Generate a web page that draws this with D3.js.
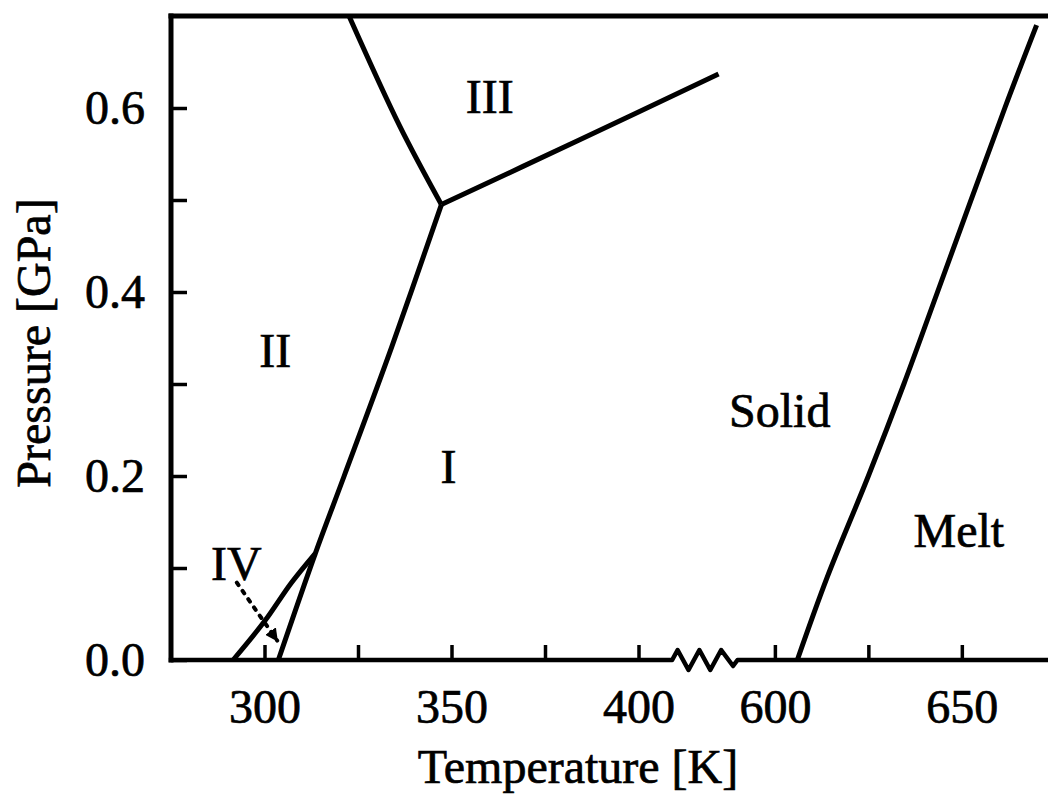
<!DOCTYPE html>
<html>
<head>
<meta charset="utf-8">
<script src="https://cdn.jsdelivr.net/npm/d3@7"></script>
<style>
  body { margin: 0; background: #fff; }
  svg { display: block; }
  text { font-family: "Liberation Serif", "Times New Roman", serif; fill: #000; stroke: #000; stroke-width: 0.7px; }
</style>
</head>
<body>
<script>
// phase boundaries, [T (K), p (GPa)]
var lineI_II = [[303.7, 0], [313.6, 0.116], [321.3, 0.2], [334, 0.34], [347.3, 0.495]];
var lineII_IV = [[291.6, 0], [300, 0.042], [307.2, 0.084], [313.6, 0.116]];
var lineII_III = [[347.3, 0.495], [336.2, 0.58], [322.6, 0.7]];
var lineI_III = [[347.3, 0.495], [384, 0.565], [421.4, 0.637]];
var meltLine = [[606, 0], [614, 0.09], [625, 0.2], [634.5, 0.3], [643.5, 0.4], [661.5, 0.6], [670, 0.69]];
var arrowIV = [[292.6, 0.084], [303.4, 0.021]];

var regionNames = ["III", "II", "I", "IV", "Solid", "Melt"];
var regionT = [360.2, 302.9, 349.2, 292.5, 601.3, 649.2];
var regionP = [0.595, 0.318, 0.192, 0.087, 0.253, 0.123];

var xTicks = [300, 325, 350, 375, 400, 600, 625, 650, 675];
var xLabels = [300, 350, 400, 600, 650];
var yTicks = [0, 0.1, 0.2, 0.3, 0.4, 0.5, 0.6];
var yLabels = [0, 0.2, 0.4, 0.6];

// broken temperature axis: left piece 275-425 K, right piece 590-680 K
var breakFrom = 409, breakTo = 590;

var W = 1048, H = 796;
var svg = d3.select("body").append("svg")
    .attr("width", W)
    .attr("height", H);

var x = d3.scaleLinear()
    .domain([275, 425, 590, 680])
    .range([171, 732, 737.5, 1074]);
var y = d3.scaleLinear()
    .domain([0, 0.7])
    .range([660, 16]);

// axes (ticks drawn inward)
var xAxis = svg.append("g")
    .attr("transform", "translate(0," + y(0) + ")")
    .call(d3.axisBottom(x)
        .tickValues(xTicks)
        .tickSizeInner(-15)
        .tickSizeOuter(0)
        .tickPadding(29)
        .tickFormat(function(d) { return xLabels.indexOf(d) >= 0 ? d : ""; }));
xAxis.select(".domain").remove();
xAxis.selectAll(".tick line").attr("stroke", "#000").attr("stroke-width", 3.5);
xAxis.selectAll(".tick text").attr("font-size", 48).attr("font-family", "Liberation Serif, serif");

var yAxis = svg.append("g")
    .attr("transform", "translate(" + x(275) + ",0)")
    .call(d3.axisLeft(y)
        .tickValues(yTicks)
        .tickSizeInner(-16)
        .tickSizeOuter(0)
        .tickPadding(26)
        .tickFormat(function(d) { return yLabels.indexOf(d) >= 0 ? d3.format(".1f")(d) : ""; }));
yAxis.select(".domain").remove();
yAxis.selectAll(".tick line").attr("stroke", "#000").attr("stroke-width", 3.5);
yAxis.selectAll(".tick text").attr("font-size", 48).attr("font-family", "Liberation Serif, serif");

// frame: left, top, and bottom with break symbol
var frame = svg.append("g")
    .attr("fill", "none")
    .attr("stroke", "#000")
    .attr("stroke-width", 5)
    .attr("stroke-linecap", "square");

frame.append("line")
    .attr("x1", x(275)).attr("x2", x(275))
    .attr("y1", y(0.7)).attr("y2", y(0));
frame.append("line")
    .attr("x1", x(275)).attr("x2", W + 10)
    .attr("y1", y(0.7)).attr("y2", y(0.7));

var x0 = x(breakFrom), x1 = x(breakTo), step = (x1 - x0) / 6;
var zig = [[x(275), 0], [x0, 0]];
[-10, 10, -10, 10, -10, 6].forEach(function(a, i) { zig.push([x0 + step * (i + 0.5) + (i == 5 ? 1 : 0), a]); });
zig.push([x1, 0], [W + 10, 0]);
frame.append("path")
    .attr("transform", "translate(0," + y(0) + ")")
    .attr("stroke-width", 4.5)
    .attr("stroke-linejoin", "round")
    .attr("d", d3.line()(zig));

// phase boundaries
var line = d3.line()
    .x(function(d) { return x(d[0]); })
    .y(function(d) { return y(d[1]); })
    .curve(d3.curveCatmullRom);

svg.append("g")
    .selectAll("path")
    .data([lineI_II, lineII_IV, lineII_III, lineI_III, meltLine])
    .enter()
    .append("path")
    .attr("d", line)
    .attr("fill", "none")
    .attr("stroke", "#000")
    .attr("stroke-width", 5)
    .attr("stroke-linejoin", "round")
    .attr("stroke-linecap", "butt");

// dotted arrow pointing at phase IV
svg.append("defs").append("marker")
    .attr("id", "head")
    .attr("viewBox", "0 0 10 10")
    .attr("refX", 9).attr("refY", 5)
    .attr("markerWidth", 13).attr("markerHeight", 13)
    .attr("markerUnits", "userSpaceOnUse")
    .attr("orient", "auto")
    .append("path")
    .attr("d", "M0,0L10,5L0,10z")
    .attr("fill", "#000");

svg.append("path")
    .attr("d", d3.line().x(function(d) { return x(d[0]); }).y(function(d) { return y(d[1]); })(arrowIV))
    .attr("fill", "none")
    .attr("stroke", "#000")
    .attr("stroke-width", 4)
    .attr("stroke-dasharray", "3,7")
    .attr("stroke-linecap", "round")
    .attr("marker-end", "url(#head)");

// region labels
svg.append("g")
    .selectAll("text")
    .data(regionNames)
    .enter()
    .append("text")
    .attr("x", function(d, i) { return x(regionT[i]); })
    .attr("y", function(d, i) { return y(regionP[i]); })
    .attr("text-anchor", "middle")
    .attr("font-size", 48)
    .text(function(d) { return d; });

// axis titles
svg.append("text")
    .attr("x", 578)
    .attr("y", 783)
    .attr("text-anchor", "middle")
    .attr("font-size", 48)
    .text("Temperature [K]");

svg.append("text")
    .attr("transform", "translate(50," + 343 + ") rotate(-90)")
    .attr("text-anchor", "middle")
    .attr("font-size", 48)
    .text("Pressure [GPa]");
</script>
</body>
</html>
